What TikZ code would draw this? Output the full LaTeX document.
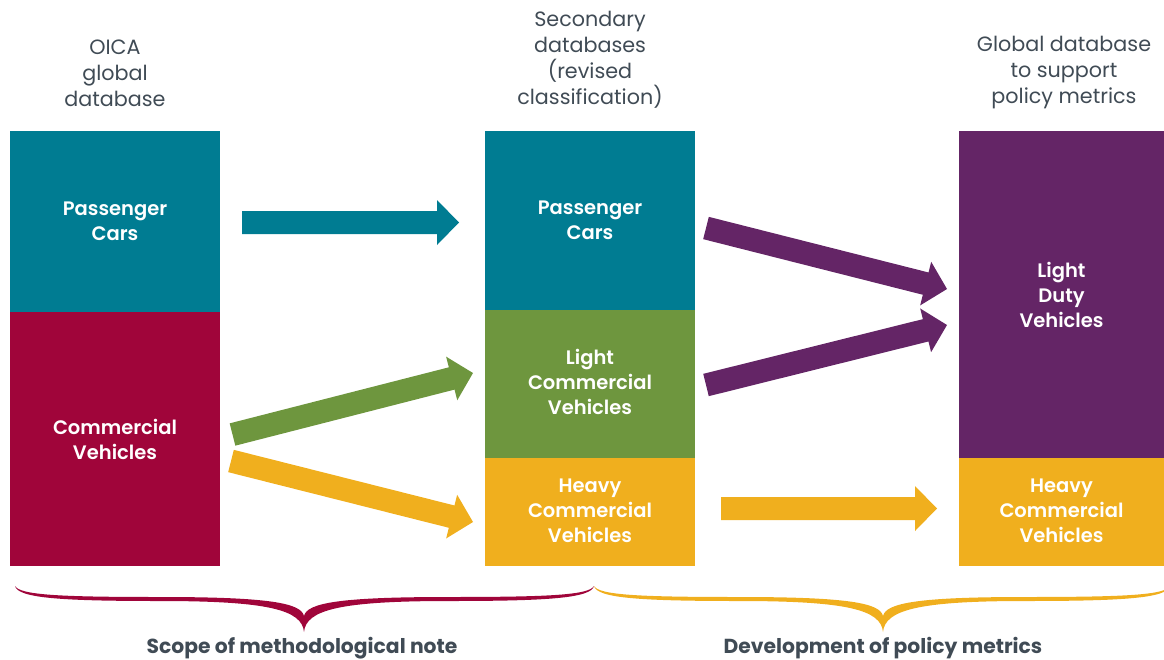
\documentclass[tikz,border=0pt]{standalone}
\usepackage{fontspec}
\setmainfont{Poppins}
\newfontfamily\semifont{Poppins SemiBold}
\newfontfamily\boldfont{Poppins Bold}
\usetikzlibrary{calc}

\definecolor{cteal}{HTML}{007C92}
\definecolor{ccrimson}{HTML}{A0053A}
\definecolor{cgreen}{HTML}{6E963E}
\definecolor{cyellow}{HTML}{F0AF1E}
\definecolor{cpurple}{HTML}{642566}
\definecolor{cgray}{HTML}{404B55}

% wide block arrow from #2 to the tip #3
\newcommand\fatarrow[3]{%
  \path ($(#3)!22pt!(#2)$) coordinate (head);
  \fill[#1] ($(#2)!11.5pt!90:(#3)$) -- ($(head)!11.5pt!90:(#3)$)
    -- ($(head)!22.5pt!90:(#3)$) -- (#3) -- ($(head)!22.5pt!-90:(#3)$)
    -- ($(head)!11.5pt!-90:(#3)$) -- ($(#2)!11.5pt!-90:(#3)$) -- cycle;}

% tapered curly brace: colour, left end x, tip x, right end x
\newcommand\curlybrace[4]{%
  \fill[#1] (#2,586) .. controls ({#2+3},598) and ({#2+45},601) .. ({#2+145},601)
    .. controls ({#3-35},601) and ({#3-2},610) .. (#3,632)
    .. controls ({#3+2},610) and ({#3+35},601) .. ({#4-145},601)
    .. controls ({#4-45},601) and ({#4-3},598) .. (#4,586)
    .. controls ({#4-5},595) and ({#4-45},597) .. ({#4-145},597)
    .. controls ({#3+35},597) and ({#3+3},603) .. (#3,616)
    .. controls ({#3-3},603) and ({#3-35},597) .. ({#2+145},597)
    .. controls ({#2+45},597) and ({#2+5},595) .. (#2,586) -- cycle;}

\tikzset{
  block/.style={anchor=north west, inner sep=0pt, outer sep=0pt,
    text=white, align=center, font=\semifont\fontsize{19.5}{25}\selectfont},
  heading/.style={text=cgray, align=center, inner sep=0pt,
    font=\fontsize{20.7}{26}\selectfont},
  footer/.style={text=cgray, inner sep=0pt, font=\boldfont\fontsize{20.3}{24}\selectfont},
}

\begin{document}
\begin{tikzpicture}[x=1pt, y=-1pt]
\useasboundingbox (0,0) rectangle (1164,659);

% column headings
\node[heading] (h1) at (115,73) {OICA\\global\\database};
\node[heading] (h2) at (590,60) {Secondary\\databases\\(revised\\classification)};
\node[heading] (h3) at (1064,73) {Global database\\to support\\policy metrics};

% OICA database
\node[block, fill=cteal, minimum width=210pt, minimum height=181pt] (pc1) at (10,131) {Passenger\\Cars};
\node[block, fill=ccrimson, minimum width=210pt, minimum height=254pt] (cv1) at (10,312) {Commercial\\Vehicles};

% secondary databases
\node[block, fill=cteal, minimum width=210pt, minimum height=179pt] (pc2) at (485,131) {Passenger\\Cars};
\node[block, fill=cgreen, minimum width=210pt, minimum height=148pt] (lcv2) at (485,310) {\raisebox{2pt}{\begin{tabular}{@{}c@{}}Light\\Commercial\\Vehicles\end{tabular}}};
\node[block, fill=cyellow, minimum width=210pt, minimum height=108pt] (hcv2) at (485,458) {\raisebox{5pt}{\begin{tabular}{@{}c@{}}Heavy\\Commercial\\Vehicles\end{tabular}}};

% global database
\node[block, fill=cpurple, minimum width=205pt, minimum height=327pt] (ldv3) at (959,131) {Light\\Duty\\Vehicles};
\node[block, fill=cyellow, minimum width=205pt, minimum height=108pt] (hcv3) at (959,458) {\raisebox{5pt}{\begin{tabular}{@{}c@{}}Heavy\\Commercial\\Vehicles\end{tabular}}};

% arrow ends
\coordinate (a1s) at (242,222.5);  \coordinate (a1e) at (459,222.5);
\coordinate (a2s) at (232.5,434.5); \coordinate (a2e) at (473,373);
\coordinate (a3s) at (231,461);    \coordinate (a3e) at (473,522);
\coordinate (a4s) at (706,228);    \coordinate (a4e) at (947,289);
\coordinate (a5s) at (706,385);    \coordinate (a5e) at (947,325);
\coordinate (a6s) at (721,508.5);  \coordinate (a6e) at (937,508.5);

\fatarrow{cteal}{a1s}{a1e}
\fatarrow{cgreen}{a2s}{a2e}
\fatarrow{cyellow}{a3s}{a3e}
\fatarrow{cpurple}{a4s}{a4e}
\fatarrow{cpurple}{a5s}{a5e}
\fatarrow{cyellow}{a6s}{a6e}

% braces and their captions
\curlybrace{ccrimson}{15}{304}{594}
\curlybrace{cyellow}{594}{883}{1170}
\node[footer] (f1) at (302,648) {Scope of methodological note};
\node[footer] (f2) at (883,648) {Development of policy metrics};
\end{tikzpicture}
\end{document}
